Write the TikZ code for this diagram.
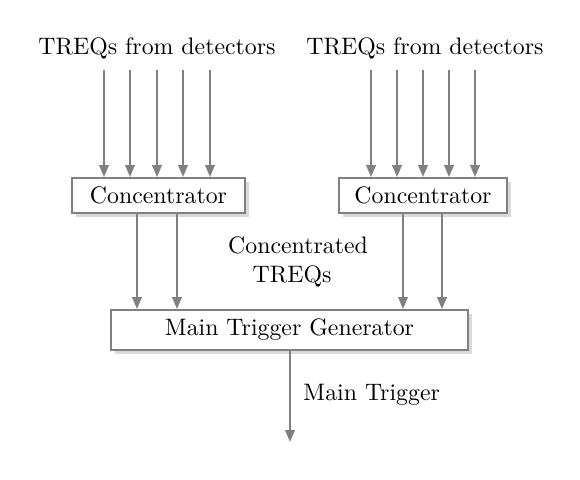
\documentclass[tikz,border=0pt]{standalone}
\usetikzlibrary{shadows,arrows.meta}
\begin{document}
\begin{tikzpicture}[x=0.42pt,y=-0.42pt,
  blockbox/.style={draw=gray, line width=0.8pt, fill=white, inner sep=0pt,
    drop shadow={shadow xshift=1.6pt, shadow yshift=-1.6pt, opacity=0.3}},
  flow/.style={draw=gray, line width=0.8pt, -{Triangle[length=5pt,width=4pt]}},
  txt/.style={inner sep=0pt, font=\normalsize}]
\useasboundingbox (0,0) rectangle (580,479);
\node[txt] (tl) at (157,48) {TREQs from detectors};
\node[txt] (tr) at (425,48) {TREQs from detectors};
\node[blockbox, minimum width=173*0.42pt, minimum height=35*0.42pt] (cl) at (158.5,195.5) {Concentrator};
\node[blockbox, minimum width=168*0.42pt, minimum height=35*0.42pt] (cr) at (423,195.5) {Concentrator};
\node[blockbox, minimum width=357*0.42pt, minimum height=40*0.42pt] (mtg) at (289.5,330) {Main Trigger Generator};
\node[txt, align=center] (ct) at (298,262) {Concentrated\\TREQs\hspace*{5pt}};
\coordinate (out) at (290,442);
\node[txt, anchor=west] (mt) at (303,395) {Main Trigger};
\foreach \x in {104,130,157,183,210} {
  \coordinate (sl\x) at (\x,70);
  \draw[flow] (sl\x) -- (sl\x |- cl.north);
}
\foreach \x in {371,397,423,449,475} {
  \coordinate (sr\x) at (\x,70);
  \draw[flow] (sr\x) -- (sr\x |- cr.north);
}
\foreach \x in {137,177} {
  \coordinate (ml\x) at (\x,250);
  \draw[flow] (ml\x |- cl.south) -- (ml\x |- mtg.north);
}
\foreach \x in {403,442} {
  \coordinate (mr\x) at (\x,250);
  \draw[flow] (mr\x |- cr.south) -- (mr\x |- mtg.north);
}
\draw[flow] (out |- mtg.south) -- (out);
\end{tikzpicture}
\end{document}
